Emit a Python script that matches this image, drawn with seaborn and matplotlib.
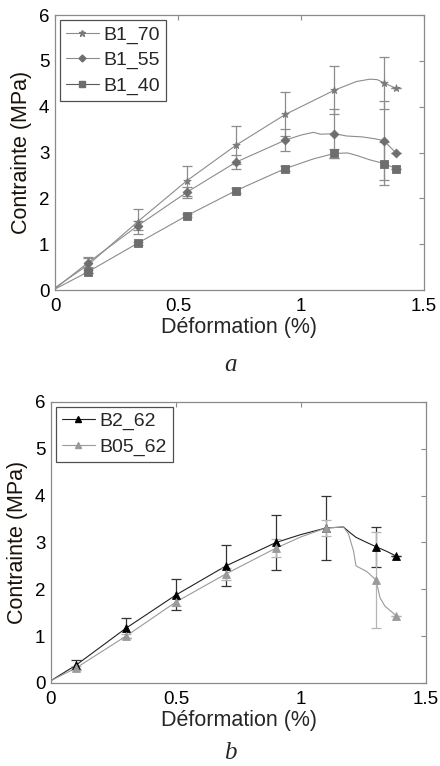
import matplotlib
matplotlib.use("Agg")
import matplotlib.pyplot as plt
from matplotlib.lines import Line2D
import numpy as np
import pandas as pd
import seaborn as sns

# ---------------- data ----------------
# panel a: mean stress at the measurement points, with error half-widths
strain_pts_a = [0.135, 0.336, 0.535, 0.736, 0.936, 1.136, 1.337, 1.386]
b1_70_mean = [0.55, 1.49, 2.38, 3.16, 3.83, 4.36, 4.52, 4.40]
b1_70_err = [0.18, 0.27, 0.33, 0.42, 0.48, 0.53, 0.57, 0.0]
b1_55_mean = [0.60, 1.40, 2.13, 2.79, 3.27, 3.41, 3.26, 2.99]
b1_55_err = [0.10, 0.10, 0.12, 0.15, 0.24, 0.53, 0.86, 0.0]
b1_40_mean = [0.40, 1.02, 1.62, 2.17, 2.65, 2.98, 2.76, 2.65]
b1_40_err = [0.03, 0.03, 0.03, 0.05, 0.06, 0.09, 0.47, 0.0]

# panel a: full stress-strain curves
b1_70_curve_x = [0, 0.135, 0.336, 0.535, 0.736, 0.936, 1.136, 1.226, 1.28, 1.31, 1.337, 1.386]
b1_70_curve_y = [0.05, 0.55, 1.49, 2.38, 3.16, 3.83, 4.36, 4.55, 4.60, 4.59, 4.52, 4.40]
b1_55_curve_x = [0, 0.135, 0.336, 0.535, 0.736, 0.936, 1.0, 1.05, 1.08, 1.136, 1.186, 1.25, 1.30, 1.337, 1.386]
b1_55_curve_y = [0.03, 0.60, 1.40, 2.13, 2.79, 3.27, 3.38, 3.44, 3.40, 3.41, 3.36, 3.34, 3.30, 3.26, 2.99]
b1_40_curve_x = [0, 0.135, 0.336, 0.535, 0.736, 0.936, 1.05, 1.136, 1.19, 1.23, 1.28, 1.337, 1.386]
b1_40_curve_y = [0.02, 0.40, 1.02, 1.62, 2.17, 2.65, 2.86, 2.98, 2.99, 2.93, 2.84, 2.76, 2.65]

# panel b: mean stress at the measurement points, with error half-widths
strain_pts_b = [0.10, 0.30, 0.50, 0.70, 0.90, 1.10, 1.30, 1.38]
b2_62_mean = [0.38, 1.17, 1.88, 2.50, 3.00, 3.31, 2.91, 2.71]
b2_62_err = [0.10, 0.21, 0.33, 0.44, 0.59, 0.68, 0.43, 0.0]
b05_62_mean = [0.32, 1.00, 1.73, 2.33, 2.88, 3.31, 2.20, 1.44]
b05_62_err = [0.04, 0.05, 0.08, 0.13, 0.20, 0.17, 1.03, 0.0]

# panel b: full stress-strain curves
b2_62_curve_x = [0, 0.1, 0.3, 0.5, 0.7, 0.9, 1.0, 1.1, 1.17, 1.196, 1.22, 1.263, 1.30, 1.343, 1.38]
b2_62_curve_y = [0.05, 0.38, 1.17, 1.88, 2.50, 3.00, 3.17, 3.31, 3.33, 3.21, 3.11, 3.00, 2.91, 2.81, 2.71]
b05_62_curve_x = [0, 0.1, 0.3, 0.5, 0.7, 0.9, 1.0, 1.1, 1.17, 1.19, 1.21, 1.22, 1.263, 1.30, 1.316, 1.336, 1.38]
b05_62_curve_y = [0.05, 0.32, 1.00, 1.73, 2.33, 2.88, 3.12, 3.31, 3.33, 3.18, 2.82, 2.50, 2.38, 2.20, 1.82, 1.64, 1.44]

x_ticks = [0, 0.5, 1, 1.5]
x_tick_labels = ["0", "0.5", "1", "1.5"]
y_ticks = [0, 1, 2, 3, 4, 5, 6]

# ---------------- style ----------------
sns.set_style("white")
plt.rcParams["font.family"] = ["Liberation Sans", "DejaVu Sans"]
plt.rcParams["axes.linewidth"] = 0.9

FRAME = "#8a8a8a"

fig = plt.figure(figsize=(4.4, 7.66), dpi=100)
ax_a = fig.add_axes([0.125, 0.6214, 0.8386, 0.3590])
ax_b = fig.add_axes([0.1159, 0.1084, 0.8523, 0.3668])


def draw_series(ax, cx, cy, px, pm, pe, line_c, mark_c, err_c, marker, ms):
    curve = pd.DataFrame({"x": cx, "y": cy})
    sns.lineplot(data=curve, x="x", y="y", ax=ax, color=line_c, lw=0.8,
                 sort=False, estimator=None, legend=False)
    ax.errorbar(px, pm, yerr=pe, fmt="none", ecolor=err_c, elinewidth=0.9,
                capsize=3.5, capthick=0.9, zorder=3)
    pts = pd.DataFrame({"x": px, "y": pm})
    sns.scatterplot(data=pts, x="x", y="y", ax=ax, marker=marker, s=ms,
                    color=mark_c, edgecolor=mark_c, linewidth=0.6,
                    zorder=4, legend=False)


def style_axes(ax):
    ax.set_xlim(0, 1.5)
    ax.set_ylim(0, 6)
    ax.set_xticks(x_ticks)
    ax.set_xticklabels(x_tick_labels)
    ax.set_yticks(y_ticks)
    for s in ax.spines.values():
        s.set_color(FRAME)
        s.set_visible(True)
    ax.tick_params(direction="in", length=3.5, width=0.8, color=FRAME,
                   top=True, right=True, labelsize=13.5, labelcolor="black")
    ax.tick_params(axis="x", pad=6)
    ax.tick_params(axis="y", pad=4)
    ax.set_xlabel("Déformation (%)", fontsize=15.5, labelpad=1)
    ax.set_ylabel("Contrainte (MPa)", fontsize=15.5, labelpad=5, color="#1a1208")


def add_legend(ax, handles, labels):
    leg = ax.legend(handles, labels, loc="upper left",
                    fontsize=14, frameon=True, fancybox=False, framealpha=1,
                    edgecolor="#505050", borderpad=0.3, labelspacing=0.42,
                    handlelength=1.7, handletextpad=0.25, borderaxespad=0.25)
    leg.get_frame().set_linewidth(0.9)
    return leg


# panel a
draw_series(ax_a, b1_70_curve_x, b1_70_curve_y, strain_pts_a, b1_70_mean, b1_70_err,
            "#8c8c8c", "#7a7a7a", "#8c8c8c", "*", 30)
draw_series(ax_a, b1_55_curve_x, b1_55_curve_y, strain_pts_a, b1_55_mean, b1_55_err,
            "#8c8c8c", "#6e6e6e", "#8c8c8c", "D", 20)
draw_series(ax_a, b1_40_curve_x, b1_40_curve_y, strain_pts_a, b1_40_mean, b1_40_err,
            "#8c8c8c", "#6e6e6e", "#8c8c8c", "s", 36)
style_axes(ax_a)

handles_a = [
    Line2D([], [], color="#8c8c8c", lw=0.8, marker="*", ms=5, mfc="#7a7a7a", mec="#7a7a7a"),
    Line2D([], [], color="#8c8c8c", lw=0.8, marker="D", ms=3.5, mfc="#6e6e6e", mec="#6e6e6e"),
    Line2D([], [], color="#5a5a5a", lw=0.8, marker="s", ms=5, mfc="#6e6e6e", mec="#6e6e6e"),
]
add_legend(ax_a, handles_a, ["B1_70", "B1_55", "B1_40"])

# panel b
draw_series(ax_b, b2_62_curve_x, b2_62_curve_y, strain_pts_b, b2_62_mean, b2_62_err,
            "#222222", "#000000", "#333333", "^", 32)
draw_series(ax_b, b05_62_curve_x, b05_62_curve_y, strain_pts_b, b05_62_mean, b05_62_err,
            "#9a9a9a", "#9a9a9a", "#b4b4b4", "^", 32)
style_axes(ax_b)

handles_b = [
    Line2D([], [], color="#222222", lw=0.8, marker="^", ms=5, mfc="#000000", mec="#000000"),
    Line2D([], [], color="#9a9a9a", lw=0.8, marker="^", ms=5, mfc="#9a9a9a", mec="#9a9a9a"),
]
add_legend(ax_b, handles_b, ["B2_62", "B05_62"])

# panel letters
fig.text(0.523, 0.5235, "a", fontsize=18, style="italic",
         family=["Liberation Serif", "DejaVu Serif"], ha="center", va="center")
fig.text(0.523, 0.017, "b", fontsize=18, style="italic",
         family=["Liberation Serif", "DejaVu Serif"], ha="center", va="center")

fig.savefig("out.png", dpi=100)
